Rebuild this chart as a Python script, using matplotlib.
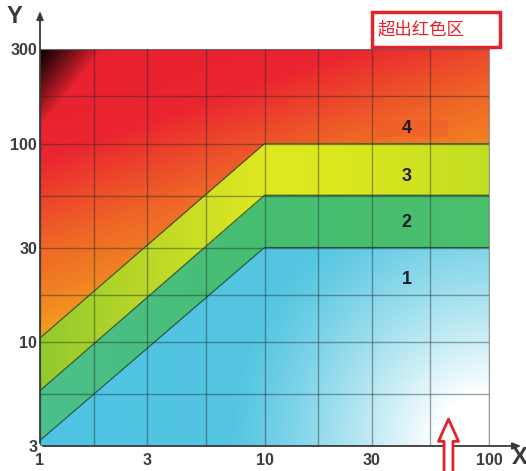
import numpy as np
import matplotlib.pyplot as plt
from matplotlib.colors import to_rgb
from matplotlib.patches import Rectangle
from matplotlib.ticker import NullFormatter

plt.rcParams['font.family'] = ['Liberation Sans', 'Noto Sans CJK SC', 'DejaVu Sans']

# 坐标刻度
x_ticks = [1, 3, 10, 30, 100]
y_ticks = [3, 10, 30, 100, 300]

# 区域分界线 (折线顶点)
bound_x = [1, 10, 100]
bound_1 = [3.2, 30, 30]
bound_2 = [5.7, 55, 55]
bound_3 = [10.5, 100, 100]

# 区域编号
zone_labels = ['1', '2', '3', '4']
zone_label_x = [43, 43, 43, 43]
zone_label_y = [20.8, 40, 68, 119]
# 编号4背后的色块范围
patch4_x = [31.6, 66]
patch4_y = [108, 131]

warn_text = '超出红色区'
arrow_x = 66
arrow_tip_y = 4.1


def ramp(stops, colors, t):
    cols = np.array([to_rgb(c) for c in colors])
    return np.stack([np.interp(t, stops, cols[:, k]) for k in range(3)], axis=-1)


W, H = 449, 397
nx, ny = 450, 400
xe = np.logspace(0, 2, nx + 1)
ye = np.logspace(np.log10(3), np.log10(300), ny + 1)
xc = np.sqrt(xe[:-1] * xe[1:])
yc = np.sqrt(ye[:-1] * ye[1:])
XC, YC = np.meshgrid(xc, yc)
U = np.log10(XC)
V = np.log10(YC)
xp = U / 2 * W
yp = (np.log10(300) - V) / 2 * H

lb1 = np.interp(U, np.log10(bound_x), np.log10(bound_1))
lb2 = np.interp(U, np.log10(bound_x), np.log10(bound_2))
lb3 = np.interp(U, np.log10(bound_x), np.log10(bound_3))

# 红色区
s = yp + 0.35 * xp
red = ramp([0, 110, 160, 200, 245, 290, 325, 360],
           ['#e81e30', '#ea2430', '#ec4a2a', '#ee6626', '#f07f22', '#f2a01e', '#f2bb1c', '#eecb1a'], s)
d0 = xp + 0.8 * yp
dark = np.clip(1 - d0 / 62, 0, 1) ** 0.9
red = red * (1 - dark[..., None])

# 黄绿区
yel = ramp([0, 100, 224, 300, 449],
           ['#92c92e', '#b8d628', '#dfe81f', '#dce71e', '#c2dd22'], xp)

# 绿色区
grn = ramp([0, 200, 449], ['#4bbf8c', '#47bd72', '#4abf6c'], xp)

# 蓝色区
blu = ramp([0, 449], ['#4ec3e2', '#5ac7e0'], xp)
d1 = np.hypot(W - xp, H - yp)
w = np.clip((1 - d1 / 260) * 1.25, 0, 1) ** 1.2
blu = blu * (1 - w[..., None]) + w[..., None]

img = np.where((V < lb1)[..., None], blu,
      np.where((V < lb2)[..., None], grn,
      np.where((V < lb3)[..., None], yel, red)))

fig = plt.figure(figsize=(5.26, 4.71), dpi=100)
ax = fig.add_axes([40 / 526, 25 / 471, 449 / 526, 397 / 471])
ax.set_xscale('log')
ax.set_yscale('log')
ax.pcolormesh(xe, ye, img, shading='flat', zorder=0, rasterized=True)

for b in (bound_1, bound_2, bound_3):
    ax.plot(bound_x, b, color='#1e3a2a', lw=0.9, alpha=0.75, zorder=2)

ax.set_xlim(1, 100)
ax.set_ylim(3, 300)
ax.set_xticks(x_ticks)
ax.set_xticklabels([str(v) for v in x_ticks])
ax.set_yticks(y_ticks)
ax.set_yticklabels([str(v) for v in y_ticks])
ax.set_xticks([np.sqrt(a * b) for a, b in zip(x_ticks[:-1], x_ticks[1:])], minor=True)
ax.set_yticks([np.sqrt(a * b) for a, b in zip(y_ticks[:-1], y_ticks[1:])], minor=True)
ax.xaxis.set_minor_formatter(NullFormatter())
ax.yaxis.set_minor_formatter(NullFormatter())
ax.tick_params(which='both', length=0)
ax.tick_params(axis='x', pad=5, labelsize=11.5, labelcolor='#3c3c3c')
ax.tick_params(axis='y', pad=2, labelsize=11.5, labelcolor='#3c3c3c')
for lab in ax.get_xticklabels() + ax.get_yticklabels():
    lab.set_fontweight('bold')
ax.set_axisbelow(False)
ax.grid(which='both', color='#1a2828', alpha=0.42, lw=1)

for sp in ('top', 'right'):
    ax.spines[sp].set_color('#9a9a9a')
    ax.spines[sp].set_linewidth(0.8)
for sp in ('left', 'bottom'):
    ax.spines[sp].set_visible(False)

ax.annotate('', xy=(0, 1.103), xytext=(0, 0), xycoords='axes fraction',
            arrowprops=dict(arrowstyle='-|>,head_length=0.5,head_width=0.2', color='#3a3a3a', lw=1.3),
            annotation_clip=False)
ax.annotate('', xy=(1.078, 0), xytext=(0, 0), xycoords='axes fraction',
            arrowprops=dict(arrowstyle='-|>,head_length=0.5,head_width=0.2', color='#3a3a3a', lw=1.3),
            annotation_clip=False)
ax.text(-0.056, 1.083, 'Y', transform=ax.transAxes, ha='center', va='center',
        fontsize=17, fontweight='bold', color='#3a3a3a')
ax.text(1.068, -0.03, 'X', transform=ax.transAxes, ha='center', va='center',
        fontsize=17, fontweight='bold', color='#3a3a3a')

ax.add_patch(Rectangle((patch4_x[0], patch4_y[0]), patch4_x[1] - patch4_x[0],
                       patch4_y[1] - patch4_y[0], fc='#ef5a2c', ec='none', alpha=0.5, zorder=1.5))
for lx, ly, t in zip(zone_label_x, zone_label_y, zone_labels):
    ax.text(lx, ly, t, ha='center', va='center', fontsize=13, fontweight='bold',
            color='#1c1c2a', zorder=4)

ax.add_patch(Rectangle((0.739, 1.005), 0.285, 0.088, transform=ax.transAxes,
                       fc='white', ec='#e3222b', lw=2.5, clip_on=False, zorder=5))
ax.text(0.752, 1.049, warn_text, transform=ax.transAxes, ha='left', va='center',
        fontsize=12.5, color='#e3222b', family=['Noto Sans CJK SC', 'DejaVu Sans'], zorder=6)

ax.annotate('', xy=(arrow_x, arrow_tip_y), xytext=(arrow_x, -0.02),
            xycoords='data', textcoords=('data', 'figure fraction'),
            arrowprops=dict(arrowstyle='simple,head_length=1.0,head_width=0.9,tail_width=0.4',
                            fc='white', ec='#e3222b', lw=2, mutation_scale=16, shrinkA=0, shrinkB=0),
            annotation_clip=False, zorder=6)

fig.savefig('out.png', dpi=100)
